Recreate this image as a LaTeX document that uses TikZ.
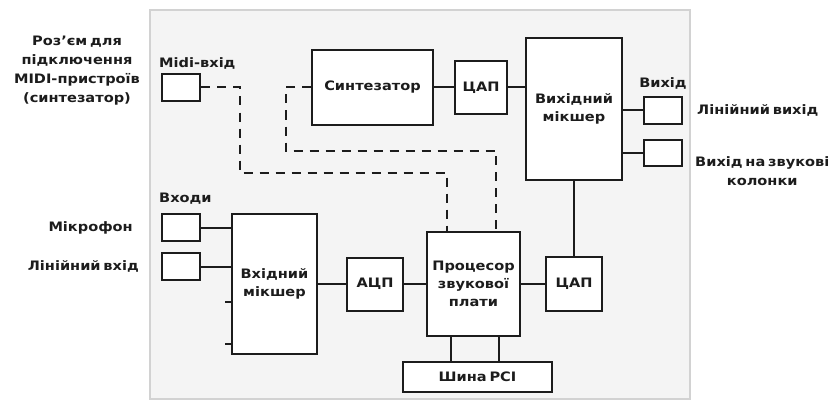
\documentclass[tikz,border=0pt]{standalone}
\usepackage{fontspec}
\setmainfont{DejaVu Sans}[FakeStretch=1.12, WordSpace=0.55]
\usetikzlibrary{positioning,calc}
\definecolor{framegray}{HTML}{F4F4F4}
\definecolor{frameline}{HTML}{D2D2D2}
\definecolor{inkdark}{HTML}{1C1C1C}

\begin{document}
\begin{tikzpicture}[
  x=1pt, y=-1pt,
  box/.style={
    draw=inkdark, fill=white, line width=2pt, inner sep=0pt, align=center,
    font=\bfseries\fontsize{13}{18}\selectfont, text=inkdark
  },
  port/.style={
    draw=inkdark, fill=white, line width=2pt, inner sep=0pt,
    minimum width=38pt, minimum height=27pt
  },
  lbl/.style={font=\bfseries\fontsize{13}{19}\selectfont, inner sep=0pt, text=inkdark},
  link/.style={line width=2pt, draw=inkdark},
  midi/.style={line width=2pt, draw=inkdark, dash pattern=on 9pt off 7pt}
]
  \useasboundingbox (0,0) rectangle (834,401);

  % Card background
  \draw[draw=frameline, fill=framegray, line width=1.5pt] (150,10) rectangle (690,399);

  % Top row: MIDI path and output mixer
  \node[port] (midiin) at (181,87.5) {};
  \node[box, minimum width=121pt, minimum height=75pt] (synth) at (372.5,87.5) {Синтезатор};
  \node[box, minimum width=52pt, minimum height=53pt] (dactop) at (481,87.5) {ЦАП};
  \node[box, minimum width=96pt, minimum height=142pt] (outmix) at (574,109) {Вихідний\\мікшер};
  \node[port, minimum height=27pt] (lineout) at (663,110.5) {};
  \node[port, minimum height=26pt] (spkout) at (663,153) {};

  % Bottom row: inputs, converters, processor
  \node[port] (micin) at (181,227.5) {};
  \node[port] (linein) at (181,266.5) {};
  \node[box, minimum width=85pt, minimum height=140pt] (inmix) at (274.5,284) {Вхідний\\мікшер};
  \node[box, minimum width=56pt, minimum height=53pt] (adc) at (375,284) {АЦП};
  \node[box, minimum width=93pt, minimum height=104pt] (cpu) at (473.5,284) {Процесор\\звукової\\плати};
  \node[box, minimum width=56pt, minimum height=54pt] (dacbot) at (574,284) {ЦАП};
  \node[box, minimum width=149pt, minimum height=30pt] (pci) at (477.5,377) {Шина PCI};

  % Labels
  \node[lbl, align=center] (midinote) at (77,71) {Роз’єм для\\підключення\\MIDI-пристроїв\\(синтезатор)};
  \node[lbl, above right=4pt and -2pt of midiin.north west] (midilbl) {Midi-вхід};
  \node[lbl, above right=9pt and -2pt of micin.north west] (inlbl) {Входи};
  \node[lbl, left=28pt of micin] (miclbl) {Мікрофон};
  \node[lbl, left=22pt of linein] (linelbl) {Лінійний вхід};
  \node[lbl, above=7pt of lineout] (outlbl) {Вихід};
  \node[lbl, right=14pt of lineout] (lineoutlbl) {Лінійний вихід};
  \node[lbl, align=center, below right=3pt and 12pt of spkout.east] (spklbl) {Вихід на звукові\\колонки};

  % Signal lines
  \draw[link] (synth.east) -- (synth.east -| dactop.west);
  \draw[link] (dactop.east) -- (dactop.east -| outmix.west);
  \draw[link] (lineout.west -| outmix.east) -- (lineout.west);
  \draw[link] (spkout.west -| outmix.east) -- (spkout.west);
  \draw[link] (outmix.south) -- (dacbot.north);
  \draw[link] (micin.east) -- (micin.east -| inmix.west);
  \draw[link] (linein.east) -- (linein.east -| inmix.west);
  \draw[link] (inmix.east) -- (adc.west);
  \draw[link] (adc.east) -- (cpu.west);
  \draw[link] (cpu.east) -- (dacbot.west);

  % Spare mixer inputs
  \coordinate (stubA) at ($(inmix.north west)!0.63!(inmix.south west)$);
  \coordinate (stubB) at ($(inmix.north west)!0.92!(inmix.south west)$);
  \draw[link] (stubA) -- ++(-6,0);
  \draw[link] (stubB) -- ++(-6,0);

  % Bus connection
  \coordinate (busL) at ($(cpu.south west)!0.26!(cpu.south east)$);
  \coordinate (busR) at ($(cpu.south west)!0.77!(cpu.south east)$);
  \draw[link] (busL) -- (busL |- pci.north);
  \draw[link] (busR) -- (busR |- pci.north);

  % MIDI dashed routes
  \coordinate (midiL) at (240,173);
  \coordinate (midiR) at (286,151);
  \coordinate (cpuL) at ($(cpu.north west)!0.22!(cpu.north east)$);
  \coordinate (cpuR) at ($(cpu.north west)!0.74!(cpu.north east)$);
  \draw[midi] (midiin.east) -| (midiL) -| (cpuL);
  \draw[midi] (synth.west) -| (midiR) -| (cpuR);
\end{tikzpicture}
\end{document}
